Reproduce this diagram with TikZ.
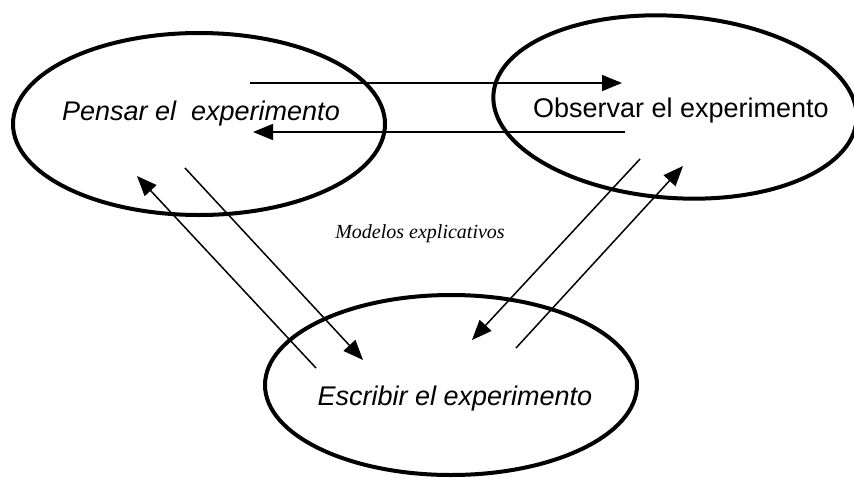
\documentclass[tikz,border=0pt]{standalone}
\usepackage{fontspec}
\setmainfont{Liberation Sans}
\newfontfamily\timesfont{Liberation Serif}
\usetikzlibrary{shapes.geometric,arrows.meta}
\tikzset{
  bubble/.style={draw=black, ellipse, line width=4pt, inner sep=0pt},
  label27/.style={font=\fontsize{27}{30}\selectfont, anchor=base, inner sep=0pt},
  conn/.style={draw=black, line width=1.5pt, -{Triangle[length=20pt,width=16pt]}}
}
\begin{document}
\begin{tikzpicture}[x=1pt,y=-1pt]
\useasboundingbox[fill=white] (0,0) rectangle (854,477);
% ellipses
\node[bubble, minimum width=372pt, minimum height=182pt] (pensar) at (199,124) {};
\node[bubble, minimum width=364pt, minimum height=182pt, rotate=-4] (observar) at (675,107) {};
\node[bubble, minimum width=372pt, minimum height=180pt] (escribir) at (451,385) {};
% texts
\node[label27] (tpensar) at (201,120) {\itshape Pensar el\ \ experimento};
\node[label27] (tobservar) at (681,117) {Observar el experimento};
\node[label27] (tescribir) at (455,405) {\itshape Escribir el experimento};
\node[anchor=base, inner sep=0pt, font=\timesfont\itshape\fontsize{20}{24}\selectfont] (modelos) at (420,238) {Modelos explicativos};
% connector end points
\coordinate (a1s) at (250,83);  \coordinate (a1e) at (622,83);
\coordinate (a2s) at (625,132); \coordinate (a2e) at (253,132);
\coordinate (a3s) at (316,368); \coordinate (a3e) at (137,176);
\coordinate (a4s) at (185,168); \coordinate (a4e) at (363,360);
\coordinate (a5s) at (640,159); \coordinate (a5e) at (472,340);
\coordinate (a6s) at (516,348); \coordinate (a6e) at (683,166);
% connectors
\draw[conn] (a1s) -- (a1e);
\draw[conn] (a2s) -- (a2e);
\draw[conn] (a3s) -- (a3e);
\draw[conn] (a4s) -- (a4e);
\draw[conn] (a5s) -- (a5e);
\draw[conn] (a6s) -- (a6e);
\end{tikzpicture}
\end{document}
